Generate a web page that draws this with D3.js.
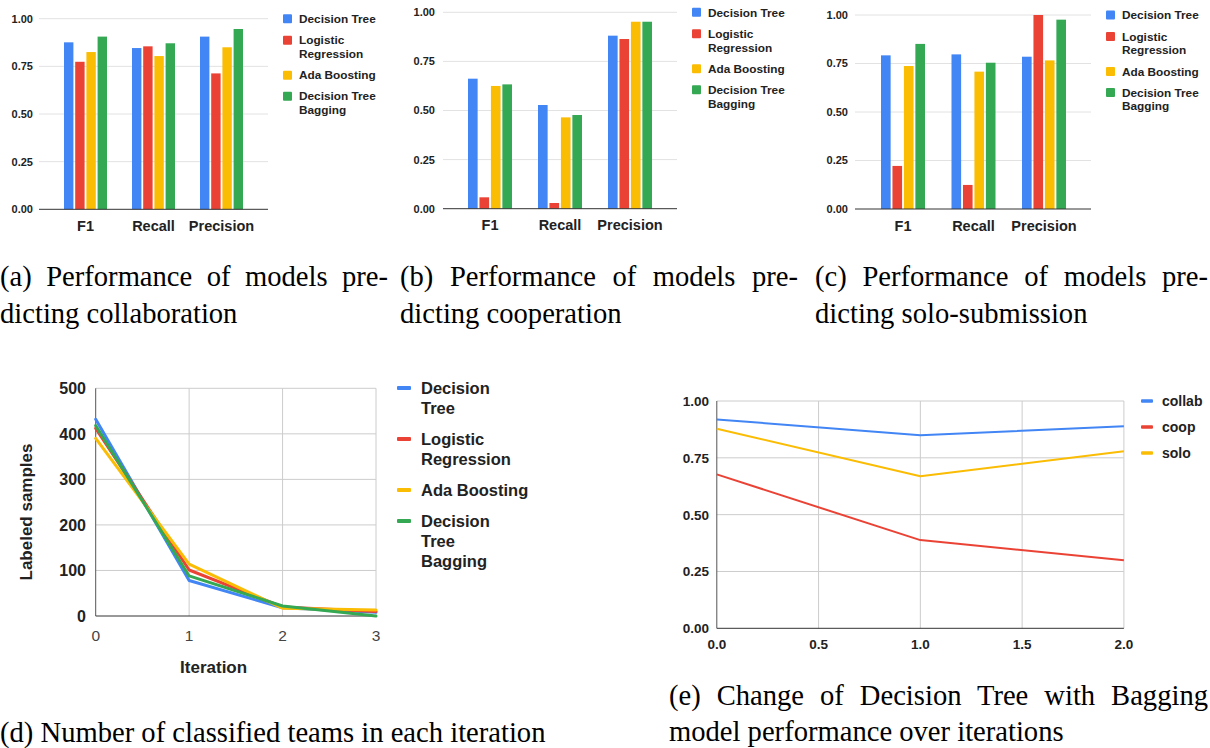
<!DOCTYPE html>
<html>
<head>
<meta charset="utf-8">
<script src="https://cdn.jsdelivr.net/npm/d3@7"></script>
<style>
  html, body { margin: 0; padding: 0; background: #fff; }
  svg { display: block; }
</style>
</head>
<body>
<svg id="fig" width="1210" height="748"></svg>
<script>
// ---------------- DATA ----------------
const categories = ["F1", "Recall", "Precision"];
const models = ["Decision Tree", "Logistic Regression", "Ada Boosting", "Decision Tree Bagging"];
const modelColors = ["#4285F4", "#EA4335", "#FBBC04", "#34A853"];
const barLegendLines = [["Decision Tree"], ["Logistic", "Regression"], ["Ada Boosting"], ["Decision Tree", "Bagging"]];

// values per category (F1, Recall, Precision), per model (DT, LR, Ada, DTB)
const collabValues = [[0.876, 0.774, 0.825, 0.906], [0.846, 0.855, 0.804, 0.871], [0.906, 0.713, 0.850, 0.946]];
const coopValues   = [[0.662, 0.058, 0.625, 0.633], [0.528, 0.029, 0.465, 0.477], [0.881, 0.864, 0.952, 0.952]];
const soloValues   = [[0.792, 0.222, 0.737, 0.851], [0.797, 0.124, 0.708, 0.754], [0.785, 1.000, 0.766, 0.976]];
const barTicks = [0, 0.25, 0.5, 0.75, 1];
const barTickLabels = ["0.00", "0.25", "0.50", "0.75", "1.00"];

// (d) labeled samples per iteration
const iterations = [0, 1, 2, 3];
const dtLabeled  = [432, 78, 18, 8];
const lrLabeled  = [412, 101, 20, 10];
const adaLabeled = [390, 114, 17, 13];
const dtbLabeled = [418, 88, 22, 0];
const labeledTicks = [0, 100, 200, 300, 400, 500];
const lineLegendLines = [["Decision", "Tree"], ["Logistic", "Regression"], ["Ada Boosting"], ["Decision", "Tree", "Bagging"]];

// (e) DT bagging performance over iterations
const perfIterations = [0, 1, 2];
const collabPerf = [0.919, 0.849, 0.889];
const coopPerf   = [0.677, 0.388, 0.299];
const soloPerf   = [0.878, 0.669, 0.779];
const perfNames = ["collab", "coop", "solo"];
const perfColors = ["#4285F4", "#EA4335", "#FBBC04"];
const perfYTicks = [0, 0.25, 0.5, 0.75, 1];
const perfYLabels = ["0.00", "0.25", "0.50", "0.75", "1.00"];
const perfXTicks = [0, 0.5, 1, 1.5, 2];
const perfXLabels = ["0.0", "0.5", "1.0", "1.5", "2.0"];

const captionA = ["(a) Performance of models pre-", "dicting collaboration"];
const captionB = ["(b) Performance of models pre-", "dicting cooperation"];
const captionC = ["(c) Performance of models pre-", "dicting solo-submission"];
const captionD = ["(d) Number of classified teams in each iteration"];
const captionE = ["(e) Change of Decision Tree with Bagging", "model performance over iterations"];

// ---------------- DRAWING ----------------
const svg = d3.select("#fig");
const SANS = "'Liberation Sans', Arial, sans-serif";
const SERIF = "'Liberation Serif', 'Times New Roman', serif";

function barChart(cfg, values) {
  const g = svg.append("g");
  const y = d3.scaleLinear().domain([0, 1]).range([cfg.bottom, cfg.top]);
  const step = (cfg.c3 - cfg.c1) / 2;
  const pad = 1 - cfg.groupW / step;
  const x0 = d3.scaleBand().domain(categories)
    .range([cfg.c1 - step / 2, cfg.c3 + step / 2]).paddingInner(pad).paddingOuter(pad / 2);
  const x1 = d3.scaleBand().domain(models).range([0, x0.bandwidth()]).paddingInner(0.16);

  g.selectAll("line.grid").data(barTicks.filter(t => t > 0)).join("line")
    .attr("x1", cfg.left).attr("x2", cfg.right)
    .attr("y1", d => y(d)).attr("y2", d => y(d))
    .attr("stroke", "#e2e2e2").attr("stroke-width", 1);

  g.selectAll("text.tick").data(barTicks).join("text")
    .attr("x", cfg.labelRight).attr("y", d => y(d)).attr("dy", "0.36em")
    .attr("text-anchor", "end").attr("font-family", SANS).attr("font-weight", "bold")
    .attr("font-size", 11).attr("fill", "#222")
    .text((d, i) => barTickLabels[i]);

  categories.forEach((c, ci) => {
    g.selectAll(null).data(values[ci]).join("rect")
      .attr("x", (d, i) => x0(c) + x1(models[i]))
      .attr("width", x1.bandwidth())
      .attr("y", d => y(d))
      .attr("height", d => y(0) - y(d))
      .attr("fill", (d, i) => modelColors[i]);
  });

  g.append("line").attr("x1", cfg.left).attr("x2", cfg.right)
    .attr("y1", y(0)).attr("y2", y(0)).attr("stroke", "#333").attr("stroke-width", 1);

  g.selectAll("text.cat").data(categories).join("text")
    .attr("x", d => x0(d) + x0.bandwidth() / 2).attr("y", cfg.catBaseline)
    .attr("text-anchor", "middle").attr("font-family", SANS).attr("font-weight", "bold")
    .attr("font-size", 14.5).attr("fill", "#222").text(d => d);

  // legend
  const offsets = [[0], [21.5, 35], [56.5], [77.5, 91]];
  barLegendLines.forEach((lines, i) => {
    const yc = cfg.top + offsets[i][0];
    g.append("rect").attr("x", cfg.right + 15).attr("y", yc - 4.5)
      .attr("width", 9).attr("height", 9).attr("rx", 1).attr("fill", modelColors[i]);
    lines.forEach((ln, j) => {
      g.append("text").attr("x", cfg.right + 31).attr("y", cfg.top + offsets[i][j]).attr("dy", "0.36em")
        .attr("font-family", SANS).attr("font-weight", "bold").attr("font-size", 11.8)
        .attr("fill", "#222").text(ln);
    });
  });
}

barChart({ left: 39, right: 268, top: 18.7, bottom: 209.3, c1: 85.5, c3: 221.5, groupW: 43, labelRight: 33, catBaseline: 231 }, collabValues);
barChart({ left: 443, right: 677, top: 12.3, bottom: 208.7, c1: 490, c3: 630, groupW: 44, labelRight: 435, catBaseline: 230 }, coopValues);
barChart({ left: 855, right: 1091, top: 15, bottom: 209, c1: 903, c3: 1044, groupW: 44, labelRight: 848, catBaseline: 230.5 }, soloValues);

// ---- (d) line chart
(function () {
  const g = svg.append("g");
  const x = d3.scaleLinear().domain([0, 3]).range([95.7, 376]);
  const y = d3.scaleLinear().domain([0, 500]).range([616, 388.3]);
  g.selectAll("line.hg").data(labeledTicks.filter(t => t > 0)).join("line")
    .attr("x1", x(0)).attr("x2", x(3)).attr("y1", d => y(d)).attr("y2", d => y(d))
    .attr("stroke", "#cccccc");
  g.selectAll("line.vg").data(iterations.filter(t => t > 0)).join("line")
    .attr("x1", d => x(d)).attr("x2", d => x(d)).attr("y1", y(0)).attr("y2", y(500))
    .attr("stroke", "#cccccc");
  g.append("line").attr("x1", x(0)).attr("x2", x(0)).attr("y1", y(0)).attr("y2", y(500)).attr("stroke", "#555");
  g.append("line").attr("x1", x(0)).attr("x2", x(3)).attr("y1", y(0)).attr("y2", y(0)).attr("stroke", "#333");

  g.selectAll("text.yt").data(labeledTicks).join("text")
    .attr("x", 86).attr("y", d => y(d)).attr("dy", "0.36em").attr("text-anchor", "end")
    .attr("font-family", SANS).attr("font-weight", "bold").attr("font-size", 16).attr("fill", "#222")
    .text(d => d);
  g.selectAll("text.xt").data(iterations).join("text")
    .attr("x", d => x(d)).attr("y", 640.5).attr("text-anchor", "middle")
    .attr("font-family", SANS).attr("font-size", 15.5).attr("fill", "#444").text(d => d);

  g.append("text").attr("transform", "translate(32,512) rotate(-90)").attr("text-anchor", "middle")
    .attr("font-family", SANS).attr("font-weight", "bold").attr("font-size", 17).attr("fill", "#222")
    .text("Labeled samples");
  g.append("text").attr("x", 213.6).attr("y", 672.5).attr("text-anchor", "middle")
    .attr("font-family", SANS).attr("font-weight", "bold").attr("font-size", 17).attr("fill", "#222")
    .text("Iteration");

  const series = [dtLabeled, lrLabeled, adaLabeled, dtbLabeled];
  const line = d3.line().x((d, i) => x(iterations[i])).y(d => y(d));
  series.forEach((s, i) => {
    g.append("path").attr("d", line(s)).attr("fill", "none").attr("stroke", modelColors[i])
      .attr("stroke-width", 3).attr("stroke-linejoin", "round").attr("stroke-linecap", "round");
  });

  let yy = 388;
  lineLegendLines.forEach((lines, i) => {
    g.append("rect").attr("x", 397).attr("y", yy - 2).attr("width", 14).attr("height", 4)
      .attr("rx", 1).attr("fill", modelColors[i]);
    lines.forEach((ln, j) => {
      g.append("text").attr("x", 421).attr("y", yy + j * 20).attr("dy", "0.36em")
        .attr("font-family", SANS).attr("font-weight", "bold").attr("font-size", 16.5)
        .attr("fill", "#222").text(ln);
    });
    yy += lines.length * 20 + 11;
  });
})();

// ---- (e) line chart
(function () {
  const g = svg.append("g");
  const x = d3.scaleLinear().domain([0, 2]).range([716.8, 1123.9]);
  const y = d3.scaleLinear().domain([0, 1]).range([628.3, 401]);
  g.selectAll("line.hg").data(perfYTicks.filter(t => t > 0)).join("line")
    .attr("x1", x(0)).attr("x2", x(2)).attr("y1", d => y(d)).attr("y2", d => y(d))
    .attr("stroke", "#cccccc");
  g.selectAll("line.vg").data(perfXTicks.filter(t => t > 0)).join("line")
    .attr("x1", d => x(d)).attr("x2", d => x(d)).attr("y1", y(0)).attr("y2", y(1))
    .attr("stroke", "#cccccc");
  g.append("line").attr("x1", x(0)).attr("x2", x(0)).attr("y1", y(0)).attr("y2", y(1)).attr("stroke", "#555");
  g.append("line").attr("x1", x(0)).attr("x2", x(2)).attr("y1", y(0)).attr("y2", y(0)).attr("stroke", "#333");

  g.selectAll("text.yt").data(perfYTicks).join("text")
    .attr("x", 709).attr("y", d => y(d)).attr("dy", "0.36em").attr("text-anchor", "end")
    .attr("font-family", SANS).attr("font-weight", "bold").attr("font-size", 13.5).attr("fill", "#222")
    .text((d, i) => perfYLabels[i]);
  g.selectAll("text.xt").data(perfXTicks).join("text")
    .attr("x", d => x(d)).attr("y", 649).attr("text-anchor", "middle")
    .attr("font-family", SANS).attr("font-weight", "bold").attr("font-size", 13.5).attr("fill", "#222")
    .text((d, i) => perfXLabels[i]);

  const series = [collabPerf, coopPerf, soloPerf];
  const line = d3.line().x((d, i) => x(perfIterations[i])).y(d => y(d));
  series.forEach((s, i) => {
    g.append("path").attr("d", line(s)).attr("fill", "none").attr("stroke", perfColors[i])
      .attr("stroke-width", 2).attr("stroke-linejoin", "round");
  });

  perfNames.forEach((n, i) => {
    const yc = 401 + i * 26;
    g.append("rect").attr("x", 1141).attr("y", yc - 1.75).attr("width", 12).attr("height", 3.5)
      .attr("rx", 1).attr("fill", perfColors[i]);
    g.append("text").attr("x", 1162).attr("y", yc).attr("dy", "0.36em")
      .attr("font-family", SANS).attr("font-weight", "bold").attr("font-size", 14)
      .attr("fill", "#222").text(n);
  });
})();

// ---- captions (first line justified)
function caption(lines, x0, x1, baselines, justifyFirst) {
  lines.forEach((ln, i) => {
    const t = svg.append("text").attr("x", x0).attr("y", baselines[i])
      .attr("font-family", SERIF).attr("font-size", 28.6).attr("fill", "#000")
      .attr("xml:space", "preserve").text(ln);
    if (justifyFirst && i === 0) {
      const w = t.node().getComputedTextLength();
      const n = (ln.match(/ /g) || []).length;
      if (n > 0 && w < x1 - x0) t.style("word-spacing", ((x1 - x0 - w) / n) + "px");
    }
  });
}
caption(captionA, 0, 388, [285.5, 322.5], true);
caption(captionB, 400, 798, [285.5, 322.5], true);
caption(captionC, 815, 1208, [285.5, 322.5], true);
caption(captionD, 0, 547, [741.5], false);
caption(captionE, 669, 1208, [704.5, 741], true);
</script>
</body>
</html>
